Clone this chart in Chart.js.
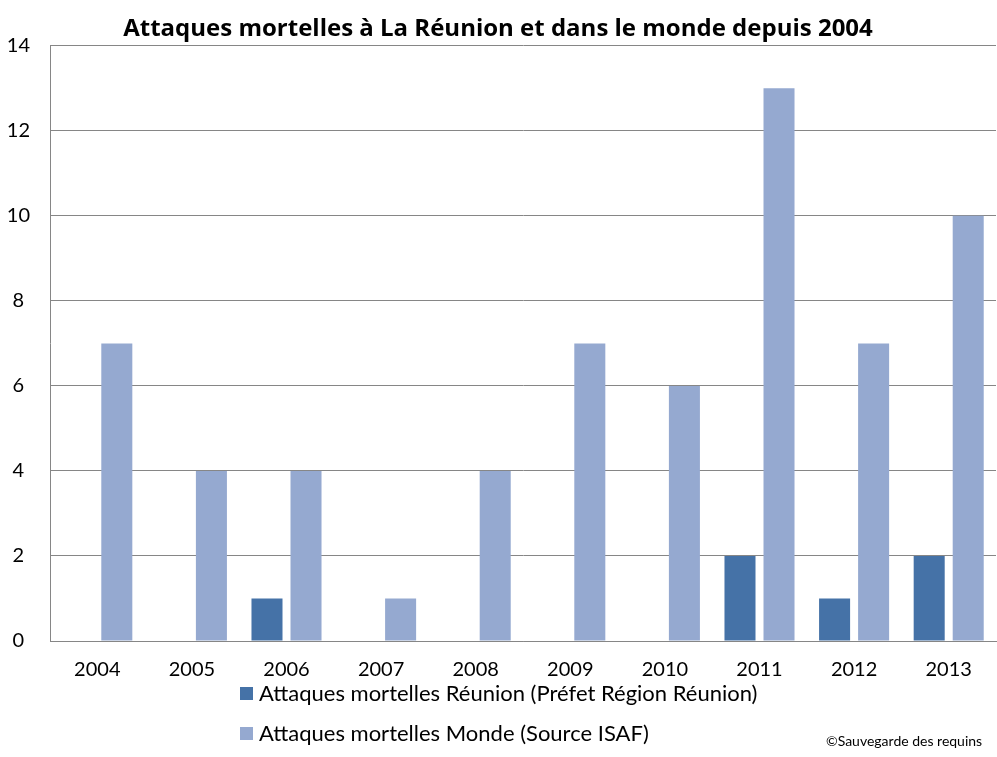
<!DOCTYPE html>
<html>
<head>
<meta charset="utf-8">
<script src="https://cdn.jsdelivr.net/npm/chart.js@4.4.1/dist/chart.umd.min.js"></script>
<style>
  html, body { margin: 0; padding: 0; background: #fff; }
  #wrap { position: relative; width: 997px; height: 757px; font-family: Lato, "Open Sans", sans-serif; }
  canvas { position: absolute; left: 0; top: 0; }
  .leg { position: absolute; left: 240px; font-size: 22px; color: #000; white-space: nowrap; line-height: 24px; }
  .leg span.box { display: inline-block; width: 13px; height: 13px; margin-right: 6px; vertical-align: 1px; }
  #copy { position: absolute; left: 826px; top: 732px; font-size: 14px; color: #000; white-space: nowrap; }
</style>
</head>
<body>
<div id="wrap">
  <canvas id="c" width="997" height="757"></canvas>
  <div class="leg" id="leg1" style="top:681px"><span class="box" style="background:#4572A7"></span>Attaques mortelles Réunion (Préfet Région Réunion)</div>
  <div class="leg" id="leg2" style="top:721px"><span class="box" style="background:#95A9D0"></span>Attaques mortelles Monde (Source ISAF)</div>
  <div id="copy">©Sauvegarde des requins</div>
</div>
<script>
const years = ["2004","2005","2006","2007","2008","2009","2010","2011","2012","2013"];
const reunion = [0, 0, 1, 0, 0, 0, 0, 2, 1, 2];
const monde = [7, 4, 4, 1, 4, 7, 6, 13, 7, 10];
const seriesNames = ["Attaques mortelles Réunion (Préfet Région Réunion)", "Attaques mortelles Monde (Source ISAF)"];
const yTicks = [0, 2, 4, 6, 8, 10, 12, 14];

const FONT = "Lato, 'Open Sans', sans-serif";

new Chart(document.getElementById('c'), {
  type: 'bar',
  data: {
    labels: years,
    datasets: [
      { label: seriesNames[0], data: reunion, backgroundColor: '#4572A7', borderWidth: 0 },
      { label: seriesNames[1], data: monde, backgroundColor: '#95A9D0', borderWidth: 0 }
    ]
  },
  options: {
    responsive: false,
    animation: false,
    devicePixelRatio: 1,
    categoryPercentage: 0.825,
    barPercentage: 0.795,
    layout: { padding: { left: 0, right: 1, top: 0, bottom: 58 } },
    plugins: {
      legend: { display: false },
      tooltip: { enabled: false },
      title: {
        display: true,
        text: 'Attaques mortelles à La Réunion et dans le monde depuis 2004',
        color: '#000',
        font: { family: "'Open Sans', Lato, sans-serif", size: 24, weight: 'bold' },
        padding: { top: 15, bottom: 2 }
      }
    },
    scales: {
      x: {
        grid: { display: false, drawTicks: false },
        border: { display: true, color: '#868686', width: 1 },
        ticks: { color: '#000', font: { family: FONT, size: 20 }, padding: 17, maxRotation: 0 }
      },
      y: {
        min: 0, max: 14,
        afterFit: (axis) => { axis.width = 50; },
        afterBuildTicks: (axis) => { axis.ticks = yTicks.map(v => ({ value: v })); },
        grid: { color: '#868686', lineWidth: 1, drawTicks: false },
        border: { display: true, color: '#868686', width: 1 },
        ticks: { color: '#000', font: { family: FONT, size: 20 }, padding: 20, crossAlign: 'center' }
      }
    }
  }
});
</script>
</body>
</html>
